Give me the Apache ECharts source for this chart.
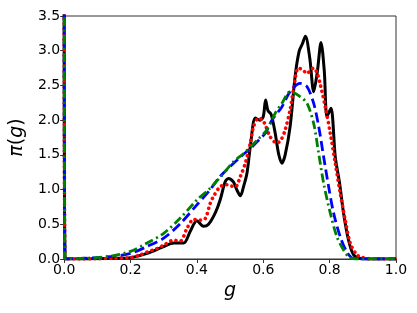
<!DOCTYPE html>
<html><head><meta charset="utf-8">
<script src="https://cdn.jsdelivr.net/npm/echarts@6/dist/echarts.min.js"></script>
<style>html,body{margin:0;padding:0;background:#fff}#c{width:417px;height:313px}</style>
</head><body><div id="c"></div>
<script>
var xTicks = [0, 0.2, 0.4, 0.6, 0.8, 1.0];
var yTicks = [0, 0.5, 1.0, 1.5, 2.0, 2.5, 3.0, 3.5];

var gBlack = [0,0.003,0.05,0.1,0.15,0.2,0.25,0.3,0.33,0.36,0.38,0.40,0.42,0.435,0.455,0.47,0.485,0.495,0.51,0.52,0.531,0.541,0.551,0.561,0.576,0.59,0.6,0.607,0.614,0.624,0.636,0.646,0.656,0.666,0.681,0.696,0.708,0.718,0.727,0.74,0.752,0.763,0.774,0.784,0.792,0.804,0.817,0.83,0.842,0.857,0.872,0.89,0.92,1.0];
var yBlack = [4.0,0,0,0.005,0.01,0.02,0.08,0.18,0.23,0.23,0.40,0.55,0.47,0.50,0.66,0.85,1.11,1.16,1.11,1.0,0.91,1.05,1.24,1.62,2.03,2.0,2.05,2.29,2.14,2.08,1.81,1.52,1.38,1.5,1.91,2.63,2.99,3.1,3.21,2.9,2.41,2.7,3.12,2.7,2.05,2.17,1.47,1.09,0.66,0.27,0.06,0.01,0,0];

var gRed = [0,0.003,0.05,0.1,0.15,0.2,0.23,0.25,0.28,0.3,0.33,0.35,0.37,0.39,0.41,0.425,0.44,0.45,0.47,0.49,0.505,0.516,0.531,0.546,0.561,0.571,0.586,0.601,0.621,0.641,0.654,0.666,0.681,0.691,0.706,0.72,0.732,0.742,0.752,0.762,0.772,0.787,0.802,0.817,0.832,0.847,0.862,0.882,0.9,0.93,1.0];
var yRed = [4.0,0,0,0.005,0.01,0.02,0.06,0.10,0.15,0.20,0.27,0.26,0.44,0.57,0.56,0.58,0.80,0.90,1.04,1.07,1.05,1.04,1.19,1.38,1.67,1.91,2.03,1.98,1.76,1.67,1.72,1.86,2.15,2.44,2.75,2.72,2.67,2.72,2.75,2.68,2.51,2.19,1.81,1.38,0.95,0.56,0.23,0.06,0.02,0,0];

var gBlue = [0,0.003,0.05,0.1,0.15,0.2,0.25,0.3,0.35,0.4,0.44,0.47,0.5,0.531,0.561,0.586,0.606,0.626,0.656,0.681,0.711,0.732,0.752,0.767,0.782,0.797,0.812,0.832,0.852,0.87,0.9,1.0];
var yBlue = [4.0,0,0.01,0.02,0.04,0.08,0.18,0.30,0.51,0.78,1.0,1.19,1.33,1.47,1.59,1.71,1.81,2.0,2.19,2.41,2.53,2.48,2.24,1.91,1.47,1.04,0.66,0.32,0.10,0.01,0,0];

var gGreen = [0,0.003,0.05,0.1,0.15,0.2,0.25,0.3,0.35,0.4,0.44,0.48,0.51,0.541,0.581,0.611,0.636,0.656,0.681,0.711,0.732,0.752,0.767,0.782,0.802,0.822,0.842,0.86,0.88,1.0];
var yGreen = [4.0,0,0.01,0.02,0.05,0.11,0.23,0.37,0.59,0.85,1.02,1.23,1.40,1.52,1.71,1.86,2.10,2.24,2.41,2.34,2.24,1.95,1.52,1.09,0.66,0.32,0.13,0.02,0,0];

function pairs(g, y){ return g.map(function(v,i){ return [v, y[i]]; }); }

var font = 'DejaVu Sans';
var chart = echarts.init(document.getElementById('c'), null, {renderer:'canvas'});
function mk(name, g, y, color, type, cap, w){
  return {name:name, type:'line', data:pairs(g,y), showSymbol:false, symbol:'none', smooth:0.3,
    clip:true, animation:false,
    lineStyle:{color:color, width:w||2.8, type:type, cap:cap||'butt', join:'round'}};
}
chart.setOption({
  animation:false,
  grid:{left:64, right:21, top:16, bottom:54, show:true, borderColor:'#333', borderWidth:1, backgroundColor:'transparent'},
  xAxis:{type:'value', min:xTicks[0], max:xTicks[xTicks.length-1], interval:0.2,
    name:'g', nameLocation:'middle', nameGap:21,
    nameTextStyle:{fontFamily:font, fontSize:19, fontStyle:'italic', color:'#000'},
    axisLine:{show:true, lineStyle:{color:'#333', width:1}},
    axisTick:{show:true, inside:false, length:4, lineStyle:{color:'#333'}},
    axisLabel:{fontFamily:font, fontSize:14, color:'#000', margin:4, formatter:function(v){return v.toFixed(1);}},
    splitLine:{show:false}},
  yAxis:{type:'value', min:yTicks[0], max:yTicks[yTicks.length-1], interval:0.5,
    name:'{i|π}{r|(}{i|g}{r|)}', nameLocation:'middle', nameGap:37, nameRotate:90,
    nameTextStyle:{fontFamily:font, fontSize:19, color:'#000',
      rich:{i:{fontFamily:font, fontSize:19, fontStyle:'italic', color:'#000'}, r:{fontFamily:font, fontSize:19, color:'#000'}}},
    axisLine:{show:true, lineStyle:{color:'#333', width:1}},
    axisTick:{show:true, inside:false, length:4, lineStyle:{color:'#333'}},
    axisLabel:{fontFamily:font, fontSize:14, color:'#000', margin:4, formatter:function(v){return v.toFixed(1);}},
    splitLine:{show:false}},
  series:[
    mk('black', gBlack, yBlack, '#000000', 'solid', 'butt', 3),
    mk('red', gRed, yRed, '#ff0000', [0.1, 5.2], 'round', 3.6),
    mk('blue', gBlue, yBlue, '#0000ff', [10, 4.5], 'butt', 2.8),
    mk('green', gGreen, yGreen, '#008000', [9, 3.5, 2, 3.5], 'butt', 2.8)
  ]
});
</script></body></html>
